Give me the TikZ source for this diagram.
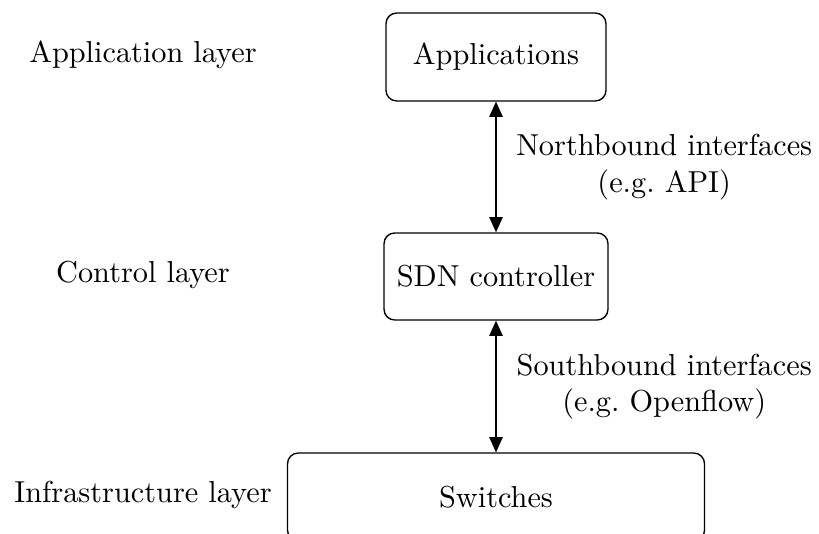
\documentclass[tikz,border=0pt]{standalone}
\usetikzlibrary{arrows.meta}
\begin{document}
\begin{tikzpicture}[x=0.33pt, y=-0.33pt,
  layerbox/.style={draw, rounded corners=3.5pt, line width=0.45pt, inner sep=0pt, align=center},
  sidelabel/.style={inner sep=0pt, anchor=center},
  link/.style={{Triangle[length=5pt,width=4.4pt]}-{Triangle[length=5pt,width=4.4pt]}, line width=0.45pt},
  iflabel/.style={align=center, inner sep=0pt}]
  \useasboundingbox (0,0) rectangle (819,534);
  \clip (0,0) rectangle (819,534);

  % layer boxes
  \node[layerbox, minimum width=72.6pt, minimum height=29pt] (app) at (496,57) {Applications};
  \node[layerbox, minimum width=73.9pt, minimum height=28.7pt] (ctrl) at (496,276.5) {SDN controller};
  \node[layerbox, minimum width=137.6pt, minimum height=29pt] (sw) at (496,497) {Switches};

  % layer names on the left
  \node[sidelabel] (lapp) at (143,55) {Application layer};
  \node[sidelabel] (lctrl) at (143,275) {Control layer};
  \node[sidelabel] (linfra) at (143,495) {Infrastructure layer};

  % interfaces between layers
  \draw[link] (app.south) -- (ctrl.north)
    node[midway, iflabel, anchor=center, xshift=55.5pt] (nb) {Northbound interfaces\\(e.g.\ API)};
  \draw[link] (ctrl.south) -- (sw.north)
    node[midway, iflabel, anchor=center, xshift=55.5pt] (sb) {Southbound interfaces\\(e.g.\ Openflow)};
\end{tikzpicture}
\end{document}
